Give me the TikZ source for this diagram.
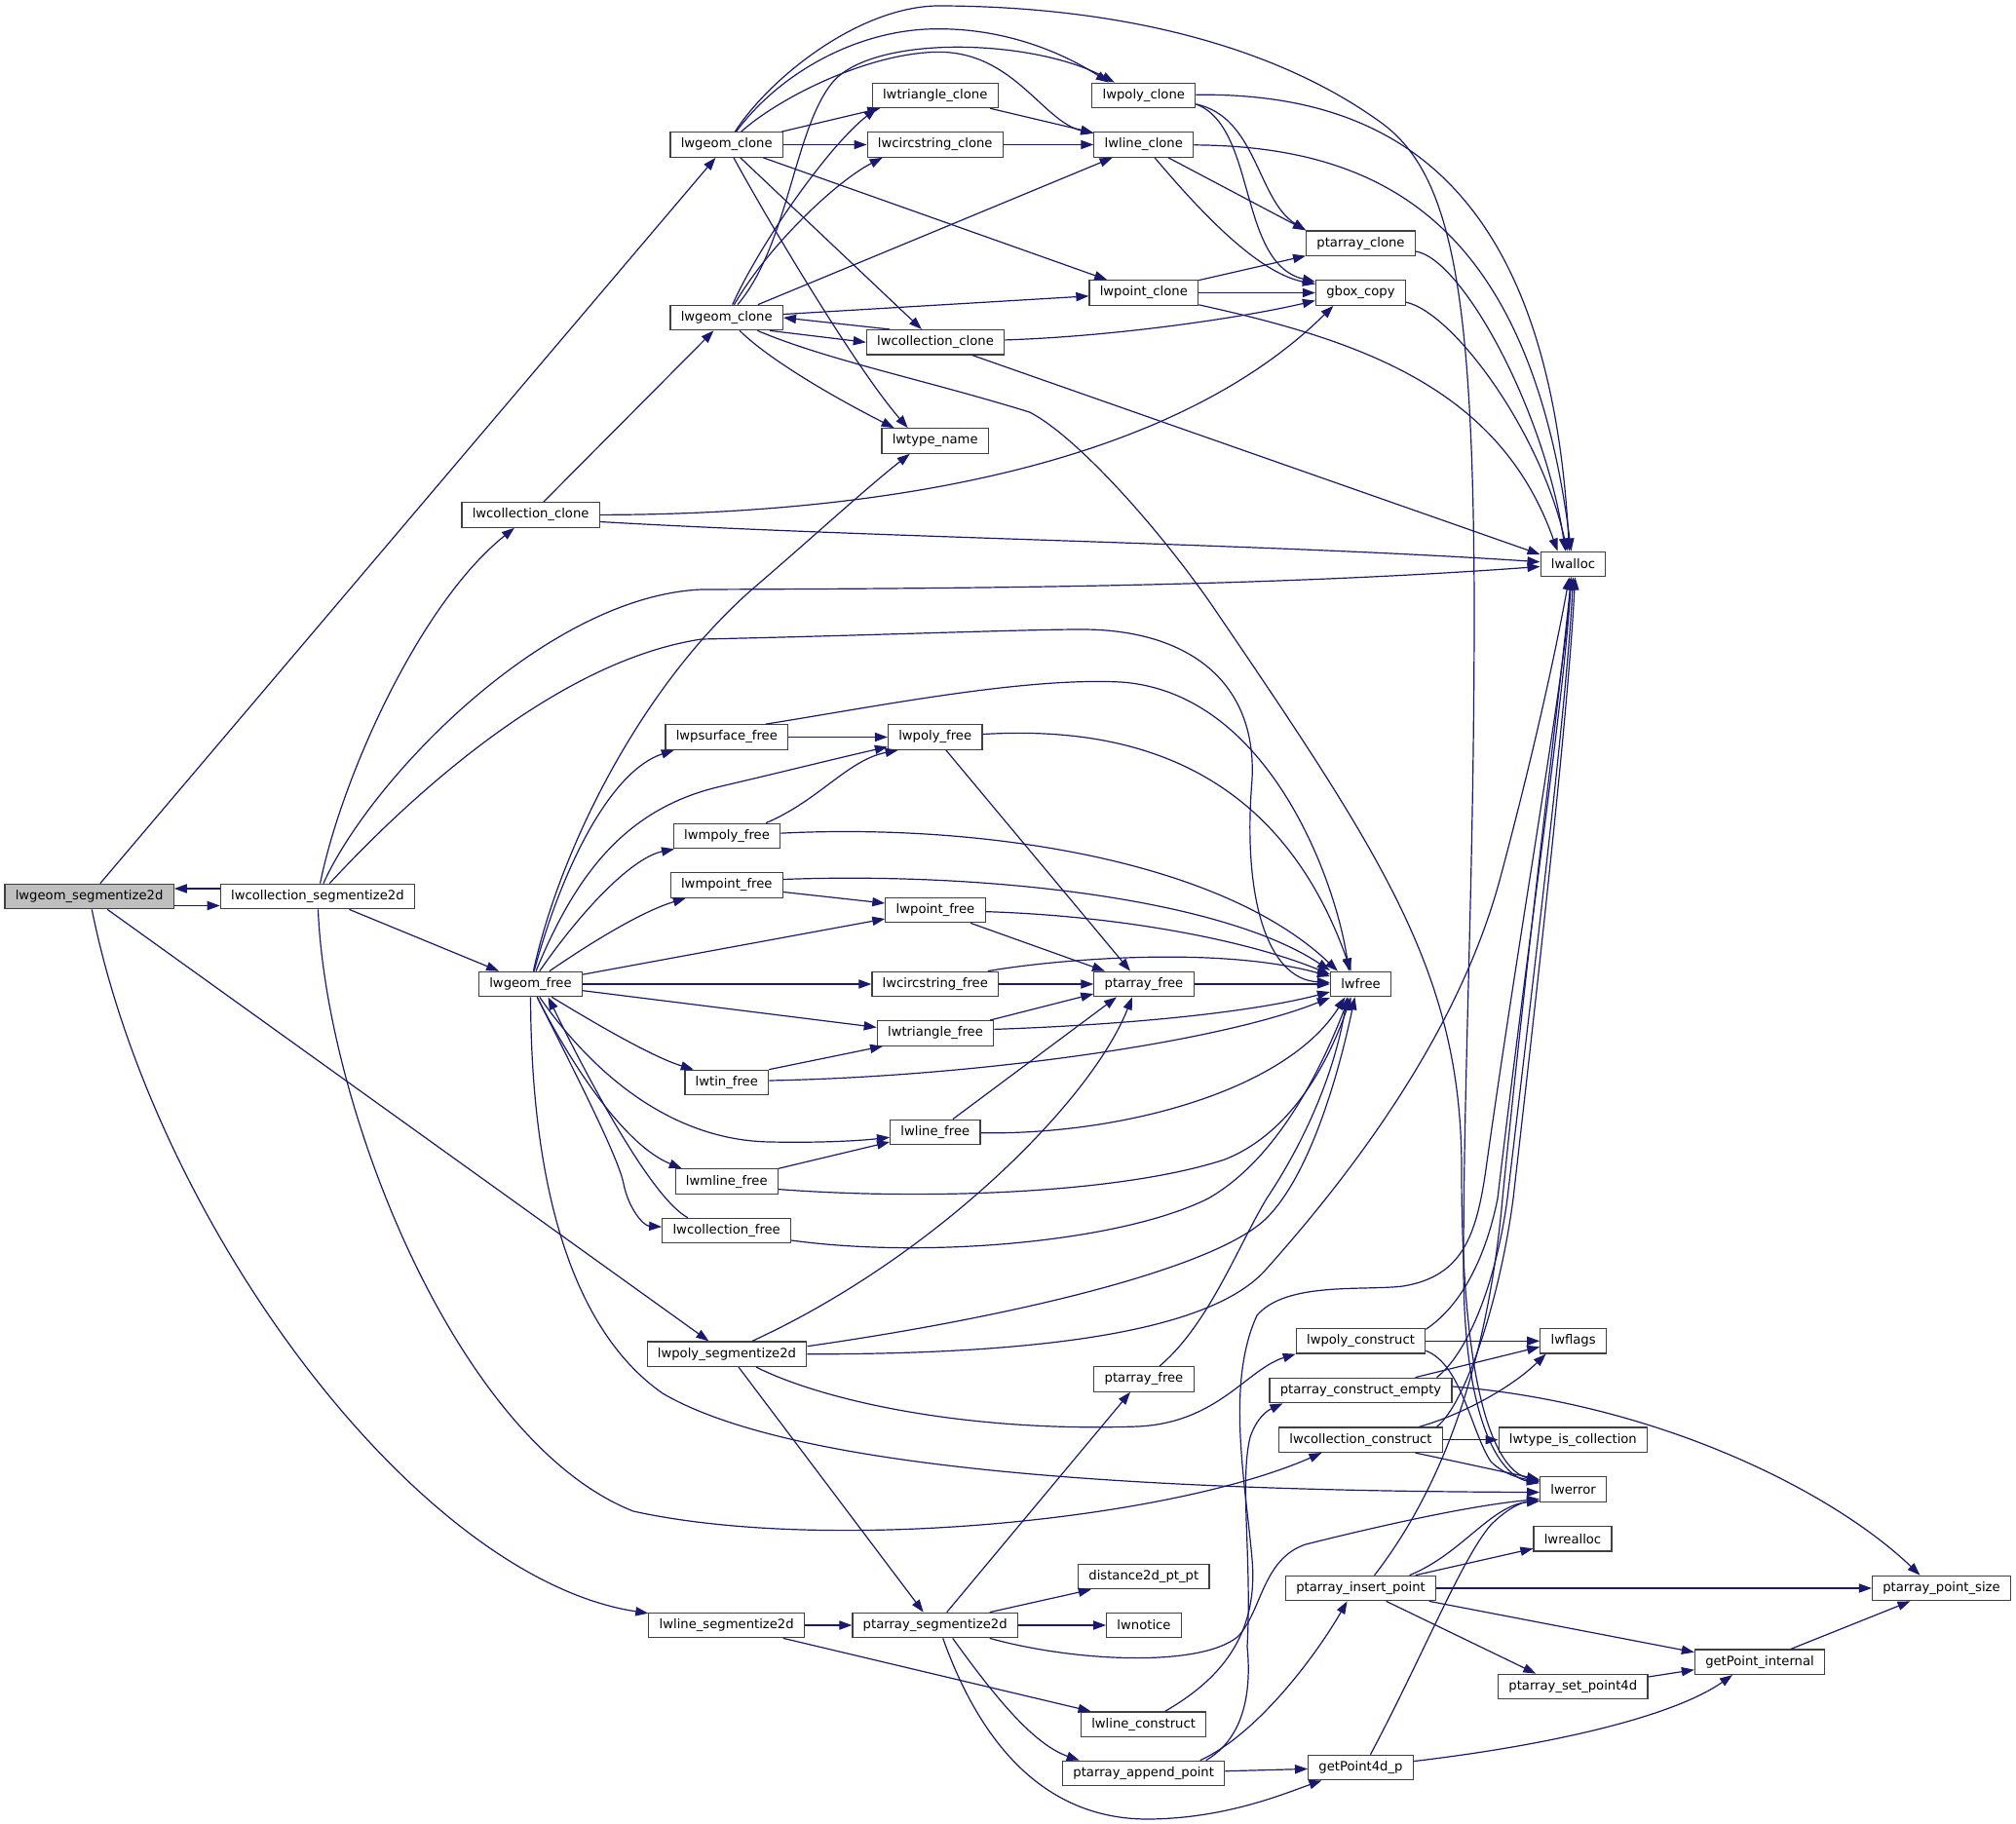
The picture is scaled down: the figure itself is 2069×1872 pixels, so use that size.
\documentclass[tikz,border=0pt]{standalone}
\usepackage{fontspec}
\setmainfont{DejaVu Sans}
\usetikzlibrary{arrows.meta}
\definecolor{edgeblue}{HTML}{191970}
\definecolor{boxgray}{HTML}{404040}
\definecolor{rootgray}{HTML}{BFBFBF}

\begin{document}
\begin{tikzpicture}[x=0.5pt,y=-0.5pt,
    fn/.style={draw=boxgray,fill=white,line width=0.6pt,minimum height=12.75pt,
      inner xsep=5.4pt,inner ysep=0pt,font=\fontsize{6.59}{8}\selectfont},
    rootfn/.style={fn,fill=rootgray},
    call/.style={draw=edgeblue,line width=0.6pt,-{Triangle[length=6.5pt,width=4.6pt]}}]
    \path[use as bounding box,fill=white] (0,0) rectangle (2069,1872);

    % functions, one column per rank
    \node[rootfn] (root) at (91.6,920) {lwgeom\_segmentize2d};
    \node[fn] (collseg) at (325.9,920) {lwcollection\_segmentize2d};
    \node[fn] (collclone) at (544.6,528.5) {lwcollection\_clone};
    \node[fn] (gfree) at (544.5,1010) {lwgeom\_free};
    \node[fn] (gclone) at (745.7,148.5) {lwgeom\_clone};
    \node[fn] (gcloneb) at (745.7,326) {lwgeom\_clone};
    \node[fn] (psurffree) at (745.8,756.5) {lwpsurface\_free};
    \node[fn] (mpolyfree) at (746,858) {lwmpoly\_free};
    \node[fn] (mpointfree) at (745.8,908.5) {lwmpoint\_free};
    \node[fn] (tinfree) at (745.8,1111) {lwtin\_free};
    \node[fn] (mlinefree) at (745.8,1212.6) {lwmline\_free};
    \node[fn] (collfree) at (745.7,1263) {lwcollection\_free};
    \node[fn] (polyseg) at (746,1389.7) {lwpoly\_segmentize2d};
    \node[fn] (lineseg) at (745.7,1668) {lwline\_segmentize2d};
    \node[fn] (triclone) at (959.7,97.9) {lwtriangle\_clone};
    \node[fn] (circclone) at (959.7,148.5) {lwcircstring\_clone};
    \node[fn] (collclonem) at (960,351.3) {lwcollection\_clone};
    \node[fn] (typename) at (959.7,452.5) {lwtype\_name};
    \node[fn] (polyfree) at (959.7,756.5) {lwpoly\_free};
    \node[fn] (pointfree) at (960,934) {lwpoint\_free};
    \node[fn] (circfree) at (959.8,1010) {lwcircstring\_free};
    \node[fn] (trifree) at (960,1060.4) {lwtriangle\_free};
    \node[fn] (linefree) at (959.8,1162) {lwline\_free};
    \node[fn] (ptseg) at (959.7,1668) {ptarray\_segmentize2d};
    \node[fn] (polyclone) at (1173.8,97.9) {lwpoly\_clone};
    \node[fn] (lineclone) at (1173.8,148.5) {lwline\_clone};
    \node[fn] (pointclone) at (1173.8,300.5) {lwpoint\_clone};
    \node[fn] (ptfree) at (1174,1010) {ptarray\_free};
    \node[fn] (ptfreeb) at (1174,1415.4) {ptarray\_free};
    \node[fn] (dist) at (1173.8,1618) {distance2d\_pt\_pt};
    \node[fn] (notice) at (1174,1668) {lwnotice};
    \node[fn] (lineconstr) at (1173.6,1769.7) {lwline\_construct};
    \node[fn] (append) at (1173.7,1820) {ptarray\_append\_point};
    \node[fn] (ptclone) at (1396.5,249.7) {ptarray\_clone};
    \node[fn] (gbox) at (1396.4,300.5) {gbox\_copy};
    \node[fn] (lwfree) at (1396.5,1010) {lwfree};
    \node[fn] (polyconstr) at (1396.5,1376.3) {lwpoly\_construct};
    \node[fn] (ptempty) at (1396.5,1427) {ptarray\_construct\_empty};
    \node[fn] (collconstr) at (1396.5,1477.7) {lwcollection\_construct};
    \node[fn] (insert) at (1396.6,1630) {ptarray\_insert\_point};
    \node[fn] (getpt4d) at (1396.5,1814) {getPoint4d\_p};
    \node[fn] (lwalloc) at (1614.5,579) {lwalloc};
    \node[fn] (lwflags) at (1614.6,1376.3) {lwflags};
    \node[fn] (iscoll) at (1614.4,1477.7) {lwtype\_is\_collection};
    \node[fn] (lwerror) at (1614.6,1528.5) {lwerror};
    \node[fn] (realloc) at (1614,1579.3) {lwrealloc};
    \node[fn] (setpt) at (1614.3,1731) {ptarray\_set\_point4d};
    \node[fn] (getptint) at (1806,1705.7) {getPoint\_internal};
    \node[fn] (ptsize) at (1992.5,1630) {ptarray\_point\_size};

    % root and collection segmentize
    \draw[call] (root) -- (gclone);
    \draw[call] ([yshift=-4.75pt]root.east) -- ([yshift=-4.75pt]collseg.west);
    \draw[call] ([yshift=4pt]collseg.west) -- ([yshift=4pt]root.east);
    \draw[call] (root) -- (polyseg);
    \draw[call] (root) .. controls (160,1260) and (430,1620) .. (lineseg);
    \draw[call] (collseg) .. controls (350,800) and (430,620) .. (collclone);
    \draw[call] (collseg) .. controls (380,800) and (560,612) .. (720,605) .. controls (1000,604) and (1300,602) .. (lwalloc);
    \draw[call] (collseg) .. controls (400,840) and (560,680) .. (720,656) .. controls (900,652) and (1050,646) .. (1110,646)
        .. controls (1220,646) and (1290,700) .. (1285,800) .. controls (1275,920) and (1300,1005) .. (lwfree);
    \draw[call] (collseg) -- (gfree);
    \draw[call] (collseg) .. controls (335,1140) and (470,1480) .. (650,1551) .. controls (850,1595) and (1200,1560) .. ([xshift=-20pt]collconstr.south);

    % clones
    \draw[call] (gclone) -- (triclone);
    \draw[call] (gclone) -- (circclone);
    \draw[call] (gclone) -- (pointclone);
    \draw[call] (gclone) -- (collclonem);
    \draw[call] (gclone) .. controls (790,230) and (880,380) .. ([xshift=-14pt]typename.north);
    \draw[call] (gclone) .. controls (800,75) and (880,30) .. (961,29.7) .. controls (1040,29) and (1100,60) .. ([xshift=-18pt]polyclone.north);
    \draw[call] (gclone) .. controls (800,100) and (890,55) .. (961,53.4) .. controls (1040,52) and (1070,125) .. (lineclone);
    \draw[call] (gclone) .. controls (790,80) and (880,8) .. (961,6) .. controls (1130,6) and (1300,40) .. (1419,127)
        .. controls (1490,180) and (1512,300) .. (1513,620) .. controls (1513,900) and (1502,1100) .. (1502,1300)
        .. controls (1502,1460) and (1540,1515) .. (lwerror);
    \draw[call] (gcloneb) .. controls (780,250) and (850,150) .. ([xshift=-30pt]triclone.south);
    \draw[call] (gcloneb) .. controls (810,250) and (815,130) .. (855.7,83) .. controls (900,35) and (1060,40) .. ([xshift=-15pt]polyclone.north);
    \draw[call] (gcloneb) .. controls (790,250) and (860,185) .. ([xshift=-27pt]circclone.south);
    \draw[call] (gcloneb) -- (lineclone);
    \draw[call] (gcloneb) -- (pointclone);
    \draw[call] ([xshift=-7pt]gcloneb.south east) -- (collclonem.west);
    \draw[call] ([xshift=-23.5pt]collclonem.north) -- (gcloneb.east);
    \draw[call] (gcloneb) .. controls (790,370) and (860,410) .. ([xshift=-21pt]typename.north);
    \draw[call] (gcloneb) .. controls (850,370) and (950,390) .. (1056.6,423) .. controls (1100,445) and (1180,530) .. (1243,620)
        .. controls (1420,880) and (1500,1000) .. (1500,1200) .. controls (1500,1450) and (1540,1510) .. (lwerror);
    \draw[call] (collclone) -- (gcloneb);
    \draw[call] (collclone) .. controls (900,528) and (1200,480) .. ([xshift=-14pt]gbox.south);
    \draw[call] ([yshift=-3.5pt]collclone.east) .. controls (900,552) and (1300,558) .. (lwalloc);
    \draw[call] (triclone) -- (lineclone);
    \draw[call] (circclone) -- (lineclone);
    \draw[call] (polyclone) .. controls (1420,95) and (1590,180) .. ([xshift=-2pt]lwalloc.north);
    \draw[call] ([yshift=-4.5pt]polyclone.east) .. controls (1290,120) and (1290,205) .. (ptclone.north west);
    \draw[call] ([yshift=-4.5pt]polyclone.east) .. controls (1290,130) and (1270,270) .. (gbox);
    \draw[call] (lineclone) .. controls (1420,150) and (1570,230) .. ([xshift=-1pt]lwalloc.north);
    \draw[call] (lineclone) -- (ptclone.north west);
    \draw[call] (lineclone) .. controls (1230,215) and (1290,280) .. (gbox);
    \draw[call] (pointclone) -- (ptclone);
    \draw[call] (pointclone) -- (gbox);
    \draw[call] (pointclone) .. controls (1400,350) and (1540,400) .. ([xshift=-8pt]lwalloc.north);
    \draw[call] (collclonem) .. controls (1150,345) and (1280,325) .. ([yshift=-4pt]gbox.west);
    \draw[call] (collclonem) -- ([yshift=5pt]lwalloc.west);
    \draw[call] (ptclone) .. controls (1500,265) and (1585,420) .. ([xshift=-4pt]lwalloc.north);
    \draw[call] (gbox) .. controls (1490,320) and (1580,440) .. ([xshift=-3pt]lwalloc.north);

    % frees
    \draw[call] (gfree) .. controls (575,870) and (660,700) .. (777.5,600) .. controls (830,555) and (890,500) .. ([xshift=-13pt]typename.south);
    \draw[call] (gfree) .. controls (580,880) and (630,790) .. ([xshift=-27pt]psurffree.south);
    \draw[call] (gfree) .. controls (590,900) and (640,830) .. (740,807) .. controls (800,793) and (860,778) .. ([yshift=-5pt]polyfree.west);
    \draw[call] (gfree) .. controls (600,930) and (650,880) .. ([xshift=-27pt]mpolyfree.south);
    \draw[call] (gfree) .. controls (610,965) and (660,935) .. ([xshift=-21pt]mpointfree.south);
    \draw[call] (gfree) -- ([yshift=-4.5pt]pointfree.west);
    \draw[call] (gfree) -- (circfree);
    \draw[call] (gfree) -- ([yshift=3pt]trifree.west);
    \draw[call] (gfree) .. controls (610,1050) and (670,1085) .. ([xshift=-17pt]tinfree.north);
    \draw[call] (gfree) .. controls (600,1090) and (680,1170) .. (790,1172) .. controls (840,1173) and (880,1171) .. (linefree);
    \draw[call] (gfree) .. controls (585,1090) and (640,1175) .. ([xshift=-23pt]mlinefree.north);
    \draw[call] (gfree) .. controls (600,1120) and (635,1190) .. (640,1215) .. controls (645,1240) and (660,1258) .. (collfree);
    \draw[call] ([xshift=-20pt]collfree.north) .. controls (670,1230) and (610,1120) .. ([xshift=9pt]gfree.south);
    \draw[call] (gfree) .. controls (545,1200) and (580,1360) .. (680,1430) .. controls (800,1500) and (1100,1530) .. ([yshift=-1.5pt]lwerror.west);
    \draw[call] (psurffree) -- (polyfree);
    \draw[call] ([xshift=20pt]psurffree.north) .. controls (900,725) and (1050,695) .. (1150,700) .. controls (1300,710) and (1370,900) .. ([xshift=-6pt]lwfree.north);
    \draw[call] (polyfree) .. controls (1150,745) and (1310,780) .. ([xshift=-5pt]lwfree.north);
    \draw[call] (polyfree) -- ([xshift=-7pt]ptfree.north);
    \draw[call] ([xshift=20pt]mpolyfree.north) .. controls (840,822) and (870,780) .. ([xshift=-19pt]polyfree.south);
    \draw[call] (mpolyfree) .. controls (1000,845) and (1250,880) .. ([xshift=4pt]lwfree.north west);
    \draw[call] ([yshift=-3.5pt]mpointfree.east) -- ([yshift=3.5pt]pointfree.west);
    \draw[call] ([yshift=3pt]mpointfree.east) .. controls (1000,895) and (1250,920) .. ([yshift=7pt]lwfree.west);
    \draw[call] (pointfree) .. controls (1150,940) and (1280,965) .. ([yshift=5pt]lwfree.west);
    \draw[call] ([xshift=18pt]pointfree.south) -- ([xshift=-20pt]ptfree.north);
    \draw[call] (circfree) -- (ptfree);
    \draw[call] ([xshift=27pt]circfree.north) .. controls (1080,985) and (1250,970) .. ([yshift=4pt]lwfree.west);
    \draw[call] ([xshift=28pt]trifree.north) -- ([yshift=-5pt]ptfree.west);
    \draw[call] ([yshift=2pt]trifree.east) .. controls (1150,1052) and (1280,1040) .. ([yshift=-4pt]lwfree.west);
    \draw[call] (tinfree.north east) -- ([xshift=-27pt]trifree.south);
    \draw[call] ([yshift=1pt]tinfree.east) .. controls (1000,1105) and (1250,1070) .. ([yshift=-7pt]lwfree.west);
    \draw[call] ([xshift=9pt]linefree.north) -- ([xshift=-14pt]ptfree.south);
    \draw[call] (linefree) .. controls (1150,1165) and (1320,1120) .. ([xshift=-8pt]lwfree.south);
    \draw[call] (mlinefree.north east) -- ([yshift=-5pt]linefree.west);
    \draw[call] ([yshift=-4pt]mlinefree.east) .. controls (950,1232) and (1150,1225) .. (1257,1190) .. controls (1320,1165) and (1360,1100) .. ([xshift=-5pt]lwfree.south);
    \draw[call] ([yshift=-5pt]collfree.east) .. controls (950,1292) and (1150,1275) .. (1240,1230) .. controls (1310,1190) and (1355,1100) .. ([xshift=-6pt]lwfree.south);
    \draw[call] (ptfree) -- (lwfree);

    % segmentize
    \draw[call] ([xshift=13pt]polyseg.north) .. controls (960,1290) and (1120,1130) .. ([xshift=-6pt]ptfree.south);
    \draw[call] ([yshift=4pt]polyseg.east) .. controls (1050,1350) and (1250,1300) .. (1300,1250) .. controls (1340,1210) and (1370,1120) .. ([xshift=-3pt]lwfree.south);
    \draw[call] (polyseg) .. controls (1100,1390) and (1250,1360) .. (1300,1302) .. controls (1400,1190) and (1500,1050) .. (1540,900)
        .. controls (1580,750) and (1600,650) .. ([xshift=-2pt]lwalloc.south);
    \draw[call] ([xshift=15pt]polyseg.south) .. controls (850,1440) and (1000,1470) .. (1168,1464) .. controls (1250,1460) and (1280,1405) .. (polyconstr.south west);
    \draw[call] ([xshift=6pt]polyseg.south) -- ([xshift=-6pt]ptseg.north);
    \draw[call] (lineseg) -- (ptseg);
    \draw[call] ([xshift=29pt]lineseg.south) -- ([xshift=-27pt]lineconstr.north);
    \draw[call] ([xshift=6pt]ptseg.north) -- ([xshift=-7pt]ptfreeb.south);
    \draw[call] ([xshift=28pt]ptseg.north) -- ([xshift=-27pt]dist.south);
    \draw[call] (ptseg) -- (notice);
    \draw[call] ([xshift=28pt]ptseg.south) .. controls (1100,1705) and (1230,1712) .. (1270,1680) .. controls (1295,1655) and (1295,1600) .. (1340,1585)
        .. controls (1420,1565) and (1510,1545) .. ([yshift=-5pt]lwerror.west);
    \draw[call] ([xshift=9pt]ptseg.south) .. controls (1020,1740) and (1060,1790) .. ([xshift=-33pt]append.north);
    \draw[call] ([xshift=4pt]ptseg.south) .. controls (1010,1800) and (1080,1868) .. (1180,1867) .. controls (1260,1866) and (1320,1840) .. ([xshift=-20pt]getpt4d.south);
    \draw[call] ([xshift=8pt]ptfreeb.north) .. controls (1240,1360) and (1270,1280) .. (1300,1230) .. controls (1340,1170) and (1370,1100) .. ([xshift=-7pt]lwfree.south);

    % constructors and point access
    \draw[call] ([xshift=11pt]lineconstr.north) .. controls (1250,1725) and (1292,1680) .. (1285,1600) .. controls (1278,1520) and (1258,1420) .. (1290,1350)
        .. controls (1320,1315) and (1400,1325) .. (1440,1320) .. controls (1500,1310) and (1515,1270) .. (1525,1200)
        .. controls (1560,950) and (1605,700) .. ([xshift=-1pt]lwalloc.south);
    \draw[call] ([xshift=32pt]append.north) .. controls (1275,1785) and (1285,1740) .. (1280,1690) .. controls (1285,1600) and (1272,1520) .. (1283,1475)
        .. controls (1290,1455) and (1300,1448) .. ([xshift=-40pt]ptempty.south);
    \draw[call] (append) -- (getpt4d);
    \draw[call] ([xshift=29pt]append.north) .. controls (1290,1780) and (1350,1700) .. ([xshift=-7pt]insert.south);
    \draw[call] (polyconstr) -- (lwflags);
    \draw[call] ([yshift=-5pt]polyconstr.east) .. controls (1500,1400) and (1510,1470) .. (1530,1500) .. controls (1545,1515) and (1565,1518) .. ([yshift=4pt]lwerror.west);
    \draw[call] ([yshift=6pt]polyconstr.east) .. controls (1500,1340) and (1525,1290) .. (1537,1230) .. controls (1570,950) and (1605,720) .. ([xshift=-1pt]lwalloc.south);
    \draw[call] ([xshift=28pt]ptempty.north) -- ([yshift=-3pt]lwflags.west);
    \draw[call] ([xshift=39pt]ptempty.north) .. controls (1505,1390) and (1535,1320) .. (1547,1230) .. controls (1580,950) and (1608,720) .. (lwalloc.south);
    \draw[call] ([yshift=2pt]ptempty.east) .. controls (1700,1440) and (1880,1530) .. ([xshift=-11pt]ptsize.north);
    \draw[call] (collconstr) -- (iscoll);
    \draw[call] ([xshift=30pt]collconstr.north) .. controls (1500,1452) and (1550,1425) .. ([xshift=-14pt]lwflags.south);
    \draw[call] ([xshift=28pt]collconstr.south) -- ([yshift=5pt]lwerror.west);
    \draw[call] ([xshift=39pt]collconstr.north) .. controls (1505,1440) and (1540,1330) .. (1553,1230) .. controls (1585,950) and (1610,720) .. ([xshift=1pt]lwalloc.south);
    \draw[call] ([xshift=7pt]insert.north) .. controls (1470,1540) and (1525,1420) .. (1542,1230) .. controls (1570,950) and (1600,720) .. ([xshift=-1pt]lwalloc.south);
    \draw[call] ([xshift=25pt]insert.north) .. controls (1500,1595) and (1530,1545) .. ([yshift=-6pt]lwerror.west);
    \draw[call] ([xshift=28pt]insert.north) -- ([yshift=-5pt]realloc.west);
    \draw[call] (insert) -- (ptsize);
    \draw[call] ([xshift=35pt]insert.south) -- ([yshift=5pt]getptint.west);
    \draw[call] ([xshift=13pt]insert.south) -- ([xshift=-19pt]setpt.north);
    \draw[call] ([xshift=5pt]getpt4d.north) .. controls (1460,1700) and (1500,1600) .. (1530,1565) .. controls (1545,1550) and (1560,1542) .. ([yshift=-6pt]lwerror.west);
    \draw[call] (getpt4d) .. controls (1600,1790) and (1720,1760) .. ([xshift=-14pt]getptint.south);
    \draw[call] ([yshift=5pt]setpt.east) -- ([yshift=-4pt]getptint.west);
    \draw[call] ([xshift=16pt]getptint.north) -- ([xshift=-16pt]ptsize.south);
\end{tikzpicture}
\end{document}
